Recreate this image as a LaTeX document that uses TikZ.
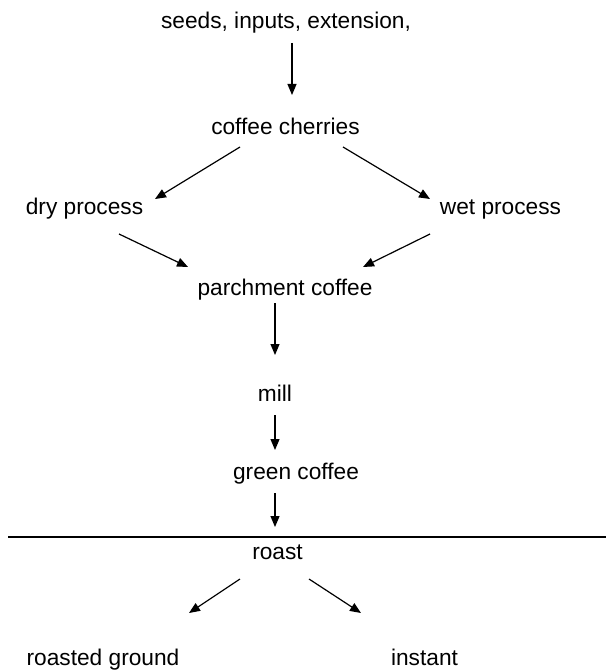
\documentclass[tikz,border=0pt]{standalone}
\usepackage{fontspec}
\setmainfont{Liberation Sans}
\usetikzlibrary{arrows.meta}
\tikzset{every node/.style={ % Sets the properties for each label
            inner sep=0pt,
            anchor=base,
            font=\fontsize{22.7pt}{27pt}\selectfont},
        arr/.style={ % Sets the properties for each arrow
            draw,
            -{Triangle[length=11pt,width=9pt]}, % Filled triangle heads
            line width=1.2pt}
        }

\begin{document}
\begin{tikzpicture}[x=1pt,y=-1pt]
    \useasboundingbox (0,0) rectangle (606,671);

    \node (seeds)    at (286,29)    {seeds, inputs, extension,};
    \node (cherries) at (285.5,135) {coffee cherries};
    \node (dry)      at (84.5,214)  {dry process};
    \node (wet)      at (500.5,214) {wet process};
    \node (parch)    at (285,295)   {parchment coffee};
    \node (mill)     at (275,401)   {mill};
    \node (green)    at (296,479)   {green coffee};
    \node (roast)    at (277.5,559) {roast};
    \node (ground)   at (103,665)   {roasted ground};
    \node (instant)  at (424.5,665) {instant};

    \draw[arr] ([shift={(6,14)}]seeds.base)       -- ([shift={(6.5,-40)}]cherries.base);
    \draw[arr] ([shift={(-45.5,12)}]cherries.base) -- ([shift={(70.5,-15)}]dry.base);
    \draw[arr] ([shift={(57.5,12)}]cherries.base)  -- ([shift={(-70.5,-15)}]wet.base);
    \draw[arr] ([shift={(34.5,20)}]dry.base)       -- ([shift={(-97,-28)}]parch.base);
    \draw[arr] ([shift={(-70.5,20)}]wet.base)      -- ([shift={(78,-28)}]parch.base);
    \draw[arr] ([shift={(-10,8)}]parch.base)       -- ([shift={(0,-46)}]mill.base);
    \draw[arr] ([shift={(0,14)}]mill.base)         -- ([shift={(-21,-29)}]green.base);
    \draw[arr] ([shift={(-21,14)}]green.base)      -- ([shift={(-2.5,-32)}]roast.base);
    \draw[arr] ([shift={(-37.5,20)}]roast.base)    -- ([shift={(86,-52)}]ground.base);
    \draw[arr] ([shift={(31.5,20)}]roast.base)     -- ([shift={(-63.5,-52)}]instant.base);

    % divider between green coffee and roast
    \draw[line width=1.2pt] (8,537) -- (606,537);
\end{tikzpicture}
\end{document}
